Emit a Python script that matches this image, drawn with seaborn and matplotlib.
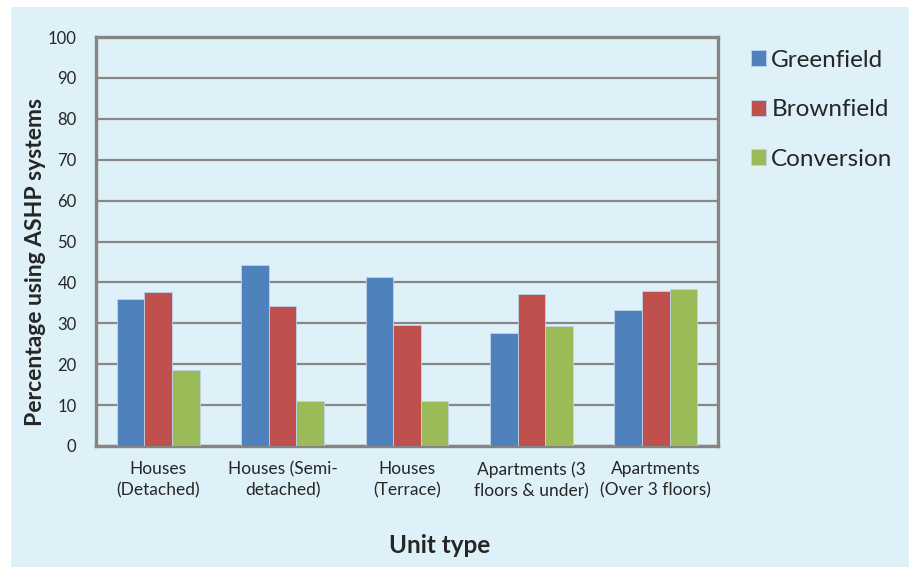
import matplotlib
matplotlib.use("Agg")
import matplotlib.pyplot as plt
import seaborn as sns
import pandas as pd
from matplotlib.patches import Rectangle

categories = ["Houses\n(Detached)", "Houses (Semi-\ndetached)", "Houses\n(Terrace)",
              "Apartments (3\nfloors & under)", "Apartments\n(Over 3 floors)"]
greenfield = [35.9, 44.2, 41.4, 27.6, 33.3]
brownfield = [37.7, 34.2, 29.5, 37.1, 37.9]
conversion = [18.7, 11.1, 11.1, 29.3, 38.5]
series_names = ["Greenfield", "Brownfield", "Conversion"]
yticks = list(range(0, 101, 10))

colors = ["#4F81BD", "#C0504D", "#9BBB59"]
bg = "#DEF1F9"

rows = []
for name, vals in zip(series_names, [greenfield, brownfield, conversion]):
    for cat, v in zip(categories, vals):
        rows.append({"Unit type": cat, "Site": name, "Value": v})
df = pd.DataFrame(rows)

sns.set_theme(style="white")
plt.rcParams["font.family"] = ["Lato", "DejaVu Sans"]

fig = plt.figure(figsize=(9.09, 5.67), dpi=100)
fig.patch.set_facecolor("white")
fig.patches.append(Rectangle((11 / 909, 0), 1 - 11 / 909, 1 - 7 / 567,
                             transform=fig.transFigure, facecolor=bg,
                             edgecolor="none", zorder=-10))

ax = fig.add_axes([96 / 909, 1 - 446 / 567, (718 - 96) / 909, (446 - 37) / 567])
ax.set_facecolor(bg)

sns.barplot(data=df, x="Unit type", y="Value", hue="Site", order=categories,
            hue_order=series_names, palette=colors, width=0.667, saturation=1,
            edgecolor="#BCD4EA", linewidth=0.6, ax=ax, zorder=3)

ax.set_ylim(0, 100)
ax.set_yticks(yticks)
ax.set_yticklabels([str(t) for t in yticks], fontsize=12)
ax.set_xlim(-0.5, len(categories) - 0.5)
ax.tick_params(axis="x", labelsize=12.5, length=0, pad=11)
ax.tick_params(axis="y", length=0, pad=14)
for lbl in ax.get_xticklabels():
    lbl.set_linespacing(1.4)

ax.yaxis.grid(True, color="#878787", linewidth=1.6, zorder=0)
ax.set_axisbelow(True)
for s in ax.spines.values():
    s.set_visible(True)
    s.set_color("#858585")
    s.set_linewidth(2.4)

ax.set_ylabel("Percentage using ASHP systems", fontsize=16.5, fontweight="bold")
ax.set_xlabel("Unit type", fontsize=17.5, fontweight="bold")
# axis title positions (axes-fraction coordinates)
ax.yaxis.set_label_coords(-0.081, 0.45)
ax.xaxis.set_label_coords(0.552, -0.215)

handles, labels = ax.get_legend_handles_labels()
ax.legend(handles, labels, loc="upper left", bbox_to_anchor=(729 / 909, 1 - 28 / 567),
          bbox_transform=fig.transFigure, frameon=False, fontsize=17.5,
          handlelength=0.62, handleheight=0.62, handletextpad=0.22, labelspacing=1.17)

fig.savefig("out.png", dpi=100, facecolor=fig.get_facecolor())
